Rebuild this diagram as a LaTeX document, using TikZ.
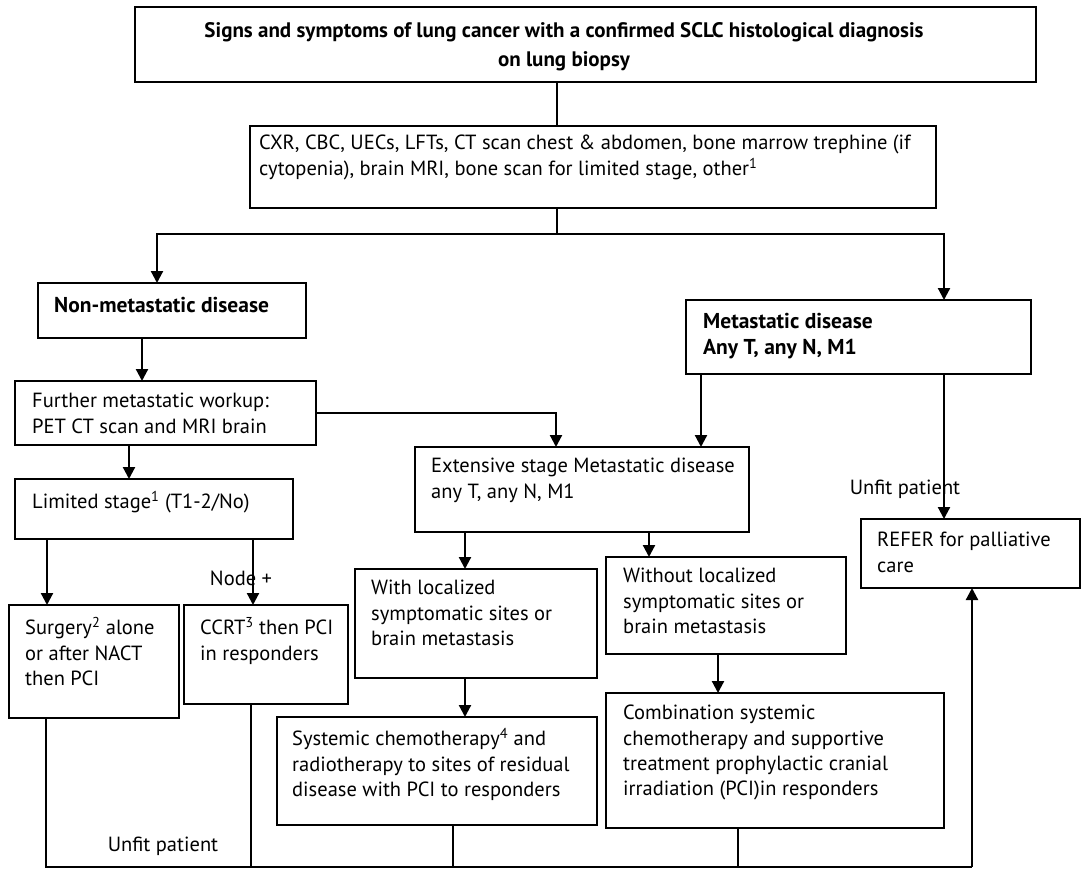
\documentclass[tikz,border=0pt]{standalone}
\usepackage{fontspec}
\setmainfont{PT Sans}
\usetikzlibrary{arrows.meta}
\newcommand\bx[5]{\node[box,minimum width={#4-#2},minimum height={#5-#3}] (#1) at (#2,#3) {};}
\begin{document}
\begin{tikzpicture}[x=1pt,y=-1pt,
 box/.style={draw, line width=2.2pt, inner sep=0pt, outer sep=0pt, anchor=north west},
 txt/.style={inner sep=0pt, anchor=north west, align=left, font=\fontsize{20.5}{25.3}\selectfont},
 btxt/.style={txt, font=\bfseries\fontsize{21.5}{26}\selectfont},
 lbl/.style={inner sep=0pt, font=\fontsize{20.5}{25.3}\selectfont},
 arr/.style={line width=2.2pt, -{Triangle[length=12pt,width=12pt]}},
 ln/.style={line width=2.2pt}
]
\useasboundingbox (0,0) rectangle (1081,870);
% boxes
\bx{top}{135}{7}{1036}{82}
\bx{sec}{250}{126}{936}{208}
\bx{nonmet}{38}{283}{306}{338}
\bx{met}{686}{300}{1031}{374}
\bx{further}{15}{381}{316}{445}
\bx{limited}{15}{479}{293}{539}
\bx{ext}{415}{447}{749}{532}
\bx{refer}{861}{519}{1080}{588}
\bx{surgery}{9}{605}{179}{718}
\bx{ccrt}{184}{605}{348}{704}
\bx{with}{355}{569}{597}{678}
\bx{without}{606}{557}{846}{654}
\bx{systemic}{277}{717}{597}{825}
\bx{comb}{606}{693}{944}{828}
% texts
\node[inner sep=0pt, align=center, font=\bfseries\fontsize{21}{29}\selectfont] (top-t) at (564,47)
  {Signs and symptoms of lung cancer with a confirmed SCLC histological diagnosis\\on lung biopsy};
\node[txt, font=\fontsize{20.5}{26}\selectfont] (sec-t) at (259,135)
  {CXR, CBC, UECs, LFTs, CT scan chest \& abdomen, bone marrow trephine (if\\cytopenia), brain MRI, bone scan for limited stage, other\textsuperscript{1}};
\node[btxt] (nonmet-t) at (54,297) {Non-metastatic disease};
\node[btxt] (met-t) at (703,313) {Metastatic disease\\Any T, any N, M1};
\node[txt] (further-t) at (32,393) {Further metastatic workup:\\PET CT scan and MRI brain};
\node[txt] (limited-t) at (32,491) {Limited stage\textsuperscript{1} (T1-2/No)};
\node[txt] (ext-t) at (431,458) {Extensive stage Metastatic disease\\any T, any N, M1};
\node[txt] (refer-t) at (877,532) {REFER for palliative\\care};
\node[txt] (surgery-t) at (25,617) {Surgery\textsuperscript{2} alone\\or after NACT\\then PCI};
\node[txt] (ccrt-t) at (200,617) {CCRT\textsuperscript{3} then PCI\\in responders};
\node[txt] (with-t) at (371,580) {With localized\\symptomatic sites or\\brain metastasis};
\node[txt] (without-t) at (623,568) {Without localized\\symptomatic sites or\\brain metastasis};
\node[txt] (systemic-t) at (292,728) {Systemic chemotherapy\textsuperscript{4} and\\radiotherapy to sites of residual\\disease with PCI to responders};
\node[txt] (comb-t) at (623,705) {Combination systemic\\chemotherapy and supportive\\treatment prophylactic cranial\\irradiation (PCI)in responders};
\node[lbl] (unfit1) at (905,489) {Unfit patient};
\node[lbl] (nodeplus) at (241,578) {Node +};
\node[lbl] (unfit2) at (163,846) {Unfit patient};
% connectors
\coordinate (j) at (557,234);
\draw[ln] (top.south -| j) -- (sec.north -| j);
\draw[ln] (sec.south -| j) -- (j);
\draw[arr] (j) -| (nonmet.north -| 157,0);
\draw[arr] (j) -| (met.north -| 944,0);
\draw[arr] (nonmet.south -| 142,0) -- (further.north -| 142,0);
\draw[arr] (further.east |- 0,413) -| (ext.north -| 556,0);
\draw[arr] (further.south -| 129,0) -- (limited.north -| 129,0);
\draw[arr] (met.south -| 701,0) -- (ext.north -| 701,0);
\draw[arr] (met.south -| 944,0) -- (refer.north -| 944,0);
\draw[arr] (limited.south -| 47,0) -- (surgery.north -| 47,0);
\draw[arr] (limited.south -| 253,0) -- (ccrt.north -| 253,0);
\draw[arr] (ext.south -| 465,0) -- (with.north -| 465,0);
\draw[arr] (ext.south -| 649,0) -- (without.north -| 649,0);
\draw[arr] (with.south -| 465,0) -- (systemic.north -| 465,0);
\draw[arr] (without.south -| 718,0) -- (comb.north -| 718,0);
\coordinate (bR) at (972,867);
\draw[ln] (surgery.south -| 46,0) |- (bR);
\draw[ln] (ccrt.south -| 251,0) -- (251,867);
\draw[ln] (systemic.south -| 453,0) -- (453,867);
\draw[ln] (comb.south -| 738,0) -- (738,867);
\draw[arr] (bR) -- (refer.south -| bR);
\end{tikzpicture}
\end{document}
